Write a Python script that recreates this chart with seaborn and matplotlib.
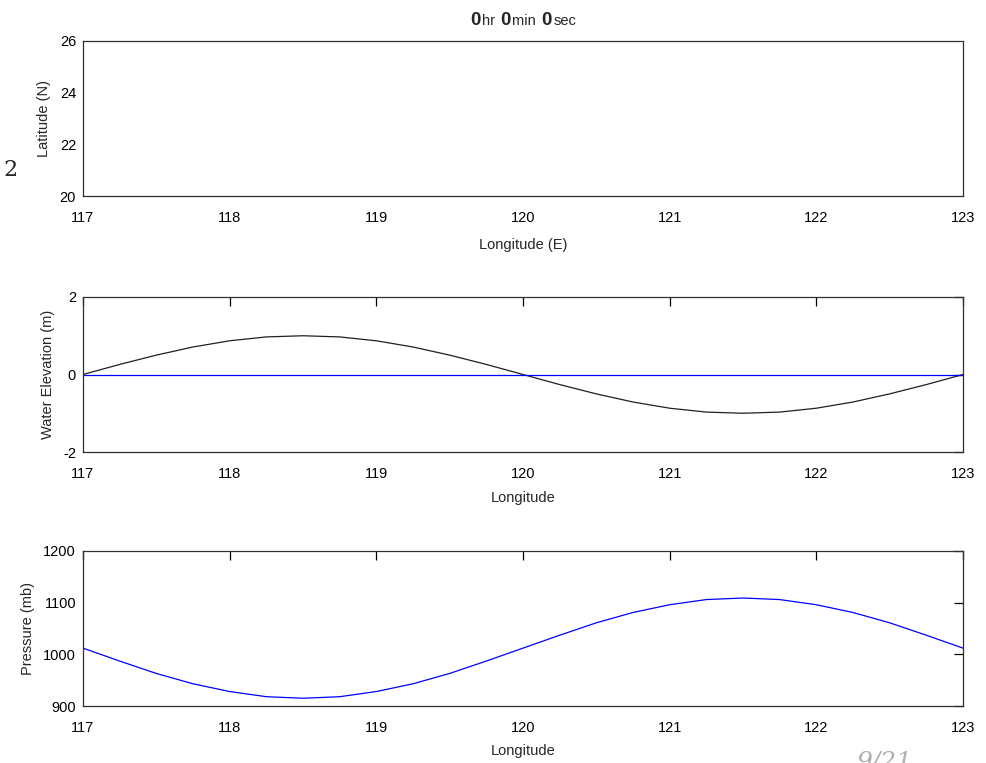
import matplotlib
matplotlib.use("Agg")
import matplotlib.pyplot as plt
import seaborn as sns
import pandas as pd
from matplotlib.offsetbox import TextArea, HPacker, AnchoredOffsetbox

# ---- data ----
longitude = [117.0, 117.25, 117.5, 117.75, 118.0, 118.25, 118.5, 118.75, 119.0,
             119.25, 119.5, 119.75, 120.0, 120.25, 120.5, 120.75, 121.0, 121.25,
             121.5, 121.75, 122.0, 122.25, 122.5, 122.75, 123.0]
water_elev = [0.0, 0.26, 0.5, 0.71, 0.87, 0.97, 1.0, 0.97, 0.87, 0.71, 0.5, 0.26,
              0.0, -0.26, -0.5, -0.71, -0.87, -0.97, -1.0, -0.97, -0.87, -0.71,
              -0.5, -0.26, 0.0]
still_level = [0.0] * len(longitude)
pressure = [1012, 987, 963, 943, 928, 918, 915, 918, 928, 943, 963, 987, 1012,
            1037, 1061, 1081, 1096, 1106, 1109, 1106, 1096, 1081, 1061, 1037, 1012]

lon_ticks = [117, 118, 119, 120, 121, 122, 123]
lat_ticks = [20, 22, 24, 26]
elev_ticks = [-2, 0, 2]
pres_ticks = [900, 1000, 1100, 1200]

df = pd.DataFrame({"lon": longitude, "elev": water_elev,
                   "still": still_level, "pres": pressure})

sns.set_style("white")
plt.rcParams["font.family"] = ["Liberation Sans", "DejaVu Sans"]
plt.rcParams["font.size"] = 10.5
plt.rcParams["axes.unicode_minus"] = False

fig = plt.figure(figsize=(9.86, 7.63), dpi=100)
L, W, H = 83 / 986, 880 / 986, 155 / 763
ax1 = fig.add_axes([L, 1 - 196 / 763, W, H])
ax2 = fig.add_axes([L, 1 - 452 / 763, W, H])
ax3 = fig.add_axes([L, 1 - 706 / 763, W, H])

# top: empty map
ax1.set_xlim(117, 123)
ax1.set_ylim(20, 26)
ax1.set_xticks(lon_ticks)
ax1.set_yticks(lat_ticks)
ax1.set_xlabel("Longitude (E)", labelpad=9)
ax1.set_ylabel("Latitude (N)", labelpad=6)

# middle: water elevation
sns.lineplot(data=df, x="lon", y="elev", ax=ax2, color="#202020", linewidth=0.9)
sns.lineplot(data=df, x="lon", y="still", ax=ax2, color="blue", linewidth=0.9)
ax2.set_xlim(117, 123)
ax2.set_ylim(-2, 2)
ax2.set_xticks(lon_ticks)
ax2.set_yticks(elev_ticks)
ax2.set_xlabel("Longitude", labelpad=7)
ax2.set_ylabel("Water Elevation (m)", labelpad=6)

# bottom: pressure
sns.lineplot(data=df, x="lon", y="pres", ax=ax3, color="blue", linewidth=0.9)
ax3.set_xlim(117, 123)
ax3.set_ylim(900, 1200)
ax3.set_xticks(lon_ticks)
ax3.set_yticks(pres_ticks)
ax3.set_xlabel("Longitude", labelpad=6)
ax3.set_ylabel("Pressure (mb)", labelpad=6)

for ax in (ax1, ax2, ax3):
    for s in ax.spines.values():
        s.set_visible(True)
        s.set_color("#303030")
        s.set_linewidth(0.9)
    ax.tick_params(axis="x", direction="in", length=6.5, width=0.9, top=True,
                   labelsize=10.5, pad=11, colors="black")
    ax.tick_params(axis="y", direction="in", length=6.5, width=0.9, right=True,
                   labelsize=10.5, pad=5, colors="black")
    ax.grid(False)

ax1.tick_params(length=0)

# title with mixed font sizes
parts = [("0", 13.5), ("hr ", 10.5), ("0", 13.5), ("min ", 10.5), ("0", 13.5), ("sec", 10.5)]
areas = [TextArea(t, textprops=dict(fontsize=s, fontweight="bold" if t == "0" else "normal",
                                    family=["Liberation Sans", "DejaVu Sans"]))
         for t, s in parts]
pack = HPacker(children=areas, align="baseline", pad=0, sep=1)
ab = AnchoredOffsetbox(loc="lower center", child=pack, frameon=False,
                       bbox_to_anchor=(0.5, 1.0), bbox_transform=ax1.transAxes,
                       borderpad=0.45)
ax1.add_artist(ab)

# stray slide text
fig.text(3 / 986, 1 - 170 / 763, "2", fontsize=16, family="DejaVu Serif",
         va="center", ha="left")
fig.text(856 / 986, 1 - 751 / 763, "9/21", fontsize=18, family="DejaVu Serif",
         style="italic", color="#b0b0b0", va="top", ha="left")

fig.savefig("out.png", dpi=100)
